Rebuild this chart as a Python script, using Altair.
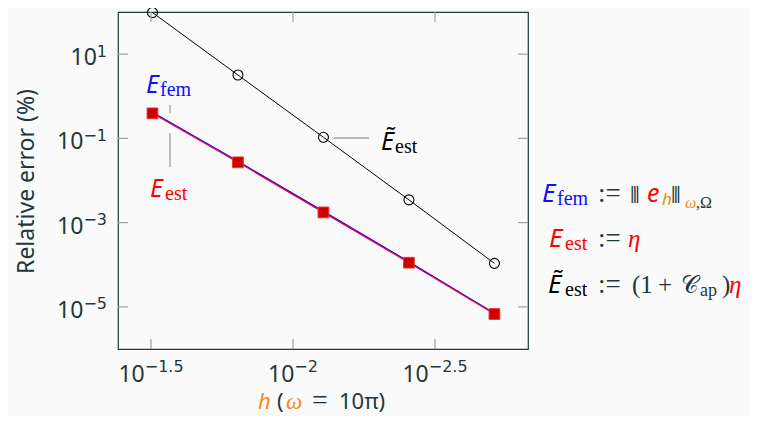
import altair as alt
import pandas as pd

# ---------------- data ----------------
h_values = [0.03125, 0.015625, 0.0078125, 0.00390625, 0.001953125]
E_est = [0.393, 0.0270, 1.75e-3, 1.12e-4, 6.76e-6]
E_fem = [0.415, 0.0285, 1.85e-3, 1.18e-4, 7.1e-6]
E_est_tilde = [97.0, 3.19, 0.106, 3.47e-3, 1.08e-4]

x_tick_values = [0.0316228, 0.01, 0.00316228]
x_tick_exponents = ["−1.5", "−2", "−2.5"]
y_tick_values = [10.0, 0.1, 1e-3, 1e-5]
y_tick_exponents = ["1", "−1", "−3", "−5"]
tick_base = "10"

# ---------------- style ----------------
W, H = 410, 337
TXT = "#23373b"
BLUE = "#1010ff"
RED = "#ff0000"
ORANGE = "#f28a1c"
SANS = "Noto Sans"
SERIF = "Liberation Serif"
SUPFONT = "DejaVu Sans"
TICK = "#a0a0a0"
BASE_SIZE, SUP_SIZE = 23, 16
BASE_W = 2 * 0.572 * BASE_SIZE          # width of "10" in Noto Sans
SUP_CHAR = {"−": 0.838, ".": 0.318}     # DejaVu Sans advance widths (em)


def sup_width(s):
    return sum(SUP_CHAR.get(c, 0.636) for c in s) * SUP_SIZE


df = pd.DataFrame({"h": h_values, "est": E_est, "fem": E_fem, "tilde": E_est_tilde})
df_xt = pd.DataFrame({"xv": x_tick_values, "exp": x_tick_exponents, "i": range(len(x_tick_values))})
df_xt["base"] = tick_base
df_yt = pd.DataFrame({"yv": y_tick_values, "exp": y_tick_exponents})
df_yt["base"] = tick_base
df_yt["px_exp"] = -11.0
df_yt["px_base"] = [-11.0 - sup_width(e) for e in y_tick_exponents]
one = pd.DataFrame({"k": [0]})

xs = alt.Scale(type="log", domain=[10 ** -2.8275, 10 ** -1.3838], reverse=True, nice=False)
ys = alt.Scale(type="log", domain=[1e-6, 1e2], nice=False)


def X(f):
    return alt.X(f, scale=xs, axis=None)


def Y(f):
    return alt.Y(f, scale=ys, axis=None)


base = alt.Chart(df)

tilde_line = base.mark_line(color="#000000", strokeWidth=1).encode(x=X("h:Q"), y=Y("tilde:Q"))
tilde_pts = base.mark_point(shape="circle", filled=False, color="#000000", size=100, strokeWidth=1.1,
                            opacity=1).encode(x=X("h:Q"), y=Y("tilde:Q"))
fem_line = base.mark_line(color="#0000ff", strokeWidth=1.2).encode(x=X("h:Q"), y=Y("fem:Q"))
est_line = base.mark_line(color="#e8003a", strokeWidth=1.2).encode(x=X("h:Q"), y=Y("est:Q"))
est_pts = base.mark_point(shape="square", filled=True, fill="#cc0000", stroke="#f03030", strokeWidth=1,
                          size=115, opacity=1).encode(x=X("h:Q"), y=Y("est:Q"))

# inward ticks on all four sides
tk = dict(color=TICK, strokeWidth=1.2)
yt_left = alt.Chart(df_yt).mark_rule(**tk).encode(y=Y("yv:Q"), x=alt.value(0), x2=alt.value(10))
yt_right = alt.Chart(df_yt).mark_rule(**tk).encode(y=Y("yv:Q"), x=alt.value(W - 10), x2=alt.value(W))
xt_bottom = alt.Chart(df_xt).mark_rule(**tk).encode(x=X("xv:Q"), y=alt.value(H - 10), y2=alt.value(H))
xt_top = alt.Chart(df_xt).mark_rule(**tk).encode(x=X("xv:Q"), y=alt.value(0), y2=alt.value(10))

# x tick labels: "10" + raised exponent, centred on each tick through the x scale
x_labels = []
for i, e in enumerate(x_tick_exponents):
    start = -(BASE_W + sup_width(e)) / 2
    src = alt.Chart(df_xt).transform_filter(alt.datum.i == i)
    x_labels.append(src.mark_text(font=SANS, fontSize=BASE_SIZE, color=TXT, align="left",
                                  baseline="alphabetic", dx=start).encode(
        x=X("xv:Q"), y=alt.value(H + 32.5), text="base:N"))
    x_labels.append(src.mark_text(font=SUPFONT, fontSize=SUP_SIZE, color=TXT, align="left",
                                  baseline="alphabetic", dx=start + BASE_W).encode(
        x=X("xv:Q"), y=alt.value(H + 23), text="exp:N"))

y_lab_base = alt.Chart(df_yt).mark_text(font=SANS, fontSize=BASE_SIZE, color=TXT, align="right",
                                        baseline="alphabetic", dy=11).encode(
    y=Y("yv:Q"), x=alt.X("px_base:Q", scale=None, axis=None), text="base:N")
y_lab_exp = alt.Chart(df_yt).mark_text(font=SUPFONT, fontSize=SUP_SIZE, color=TXT, align="right",
                                       baseline="alphabetic", dy=2.5).encode(
    y=Y("yv:Q"), x=alt.X("px_exp:Q", scale=None, axis=None), text="exp:N")


def txt(t, x, y, color=TXT, font=SANS, size=24, style="normal", angle=0, align="left"):
    return alt.Chart(one).mark_text(text=t, font=font, fontSize=size, fontStyle=style, color=color,
                                    align=align, baseline="alphabetic", angle=angle).encode(
        x=alt.value(x), y=alt.value(y))


def pin(x1, y1, x2, y2):
    return alt.Chart(one).mark_rule(color=TICK, strokeWidth=1.3).encode(
        x=alt.value(x1), x2=alt.value(x2), y=alt.value(y1), y2=alt.value(y2))


annots = [
    # y title
    txt("Relative error (%)", -84, H / 2 + 1, TXT, SANS, 23, angle=270, align="center"),
    # in-plot labels
    txt("E", 28, 81, BLUE, SANS, 25, "italic"), txt("fem", 42, 84, BLUE, SERIF, 20),
    txt("E", 32, 185, RED, SANS, 25, "italic"), txt("est", 47, 188, RED, SERIF, 20),
    txt("Ẽ", 263, 138, "#000000", SANS, 25, "italic"), txt("est", 277, 141, "#000000", SERIF, 20),
    pin(52, 93, 52, 101), pin(52, 121, 52, 155), pin(216, 126, 251, 126),
    # x title
    txt("h", 140, 397, ORANGE, SANS, 22, "italic"),
    txt("(", 159, 397, TXT, SANS, 22),
    txt("ω", 168, 397, ORANGE, SERIF, 23, "italic"),
    txt("=", 194, 397, TXT, SERIF, 28),
    txt("10π)", 221, 397, TXT, SANS, 22),
    # legend line 1
    txt("E", 424, 190, BLUE, SANS, 26, "italic"), txt("fem", 439, 193, BLUE, SERIF, 20),
    txt(":=", 480, 190, TXT, SERIF, 27),
    txt("⦀", 512, 191, TXT, "DejaVu Sans", 22),
    txt("e", 529, 190, RED, SANS, 25, "italic"),
    txt("h", 544, 193, ORANGE, SANS, 17, "italic"),
    txt("⦀", 553, 191, TXT, "DejaVu Sans", 22),
    txt("ω", 567, 196, ORANGE, SERIF, 16, "italic"),
    txt(",Ω", 578, 196, TXT, SERIF, 16),
    # legend line 2
    txt("E", 431, 235, RED, SANS, 26, "italic"), txt("est", 447, 238, RED, SERIF, 20),
    txt(":=", 480, 235, TXT, SERIF, 27),
    txt("η", 510, 235, RED, SERIF, 25, "italic"),
    # legend line 3
    txt("Ẽ", 430, 281, "#000000", SANS, 26, "italic"), txt("est", 447, 284, "#000000", SERIF, 20),
    txt(":=", 480, 281, TXT, SERIF, 27),
    txt("(1", 514, 281, TXT, SERIF, 25),
    txt("+", 540, 281, TXT, SERIF, 25),
    txt("𝒞", 563, 281, TXT, "DejaVu Serif", 24),
    txt("ap", 582, 284, TXT, SERIF, 18),
    txt(")", 604, 281, TXT, SERIF, 25),
    txt("η", 611, 281, RED, SERIF, 25, "italic"),
]

chart = alt.layer(
    tilde_line, tilde_pts, fem_line, est_line, est_pts,
    yt_left, yt_right, xt_bottom, xt_top,
    *x_labels, y_lab_base, y_lab_exp, *annots
).properties(
    width=W, height=H,
    padding={"left": 110, "top": 4, "right": 222, "bottom": 67},
    autosize=alt.AutoSizeParams(type="none"),
    background="#fafafa",
).configure_view(stroke=TXT, strokeWidth=1.2)

chart.save("out.html", embed_options={"renderer": "svg", "actions": False})
